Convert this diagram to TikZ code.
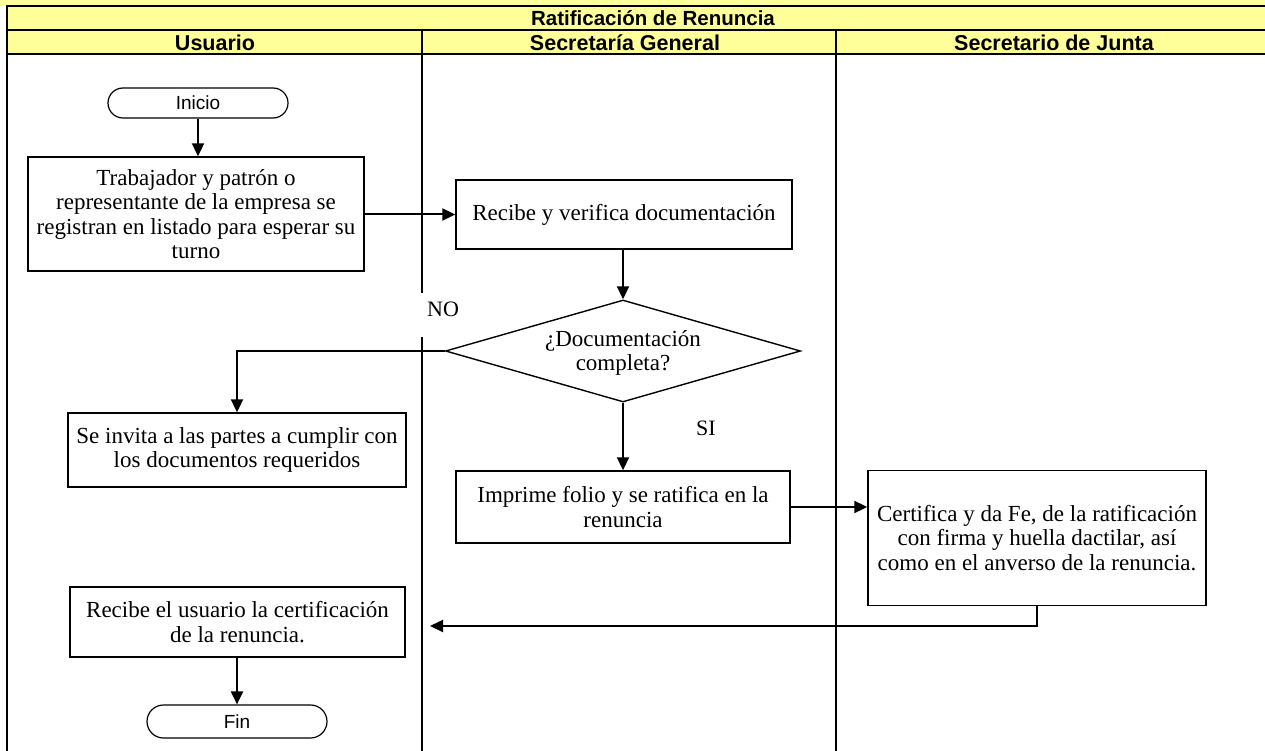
\documentclass[tikz,border=0pt]{standalone}
\usepackage{fontspec}
\setmainfont{Liberation Serif}
\newfontfamily\arialfont{Liberation Sans}
\usetikzlibrary{arrows.meta,shapes.geometric,shapes.misc}
\definecolor{hdryellow}{HTML}{FFFF99}
\tikzset{
  lane/.style={line width=2.4pt,black},
  hdr/.style={font=\arialfont\bfseries\fontsize{21.5}{23}\selectfont,inner sep=0pt,anchor=center},
  ttl/.style={font=\arialfont\bfseries\fontsize{20.5}{22}\selectfont,inner sep=0pt,anchor=center},
  procbox/.style={draw,line width=1.4pt,fill=white,align=center,font=\fontsize{23}{24.5}\selectfont,inner sep=0pt},
  term/.style={draw,line width=1.2pt,rounded rectangle,fill=white,font=\arialfont\fontsize{19}{21}\selectfont,inner sep=0pt},
  decision/.style={draw,line width=1.4pt,diamond,aspect=3.5,fill=white,inner sep=0pt},
  dtext/.style={align=center,font=\fontsize{23}{24.5}\selectfont,inner sep=0pt},
  flow/.style={line width=2pt,-{Triangle[length=13pt,width=12pt]}},
  lbl/.style={font=\fontsize{22}{24}\selectfont,inner sep=0pt}
}
\begin{document}
\begin{tikzpicture}[x=1pt,y=-1pt]
\useasboundingbox (0,0) rectangle (1265,751);
% top strip and header rows
\fill[hdryellow] (0,0) rectangle (1265,6);
\fill[hdryellow] (7,6) rectangle (1265,54);
\draw[lane] (7,6) -- (1265,6);
\draw[lane] (7,30) -- (1265,30);
\draw[lane] (7,54) -- (1265,54);
\draw[lane] (7,5) -- (7,751);
\draw[lane] (422,30) -- (422,293);
\draw[lane] (422,337) -- (422,751);
\draw[lane] (836,30) -- (836,751);
\node[ttl] (title) at (653,18.5) {Ratificación de Renuncia};
\node[hdr] (h1) at (215,42.5) {Usuario};
\node[hdr] (h2) at (625,42.5) {Secretaría General};
\node[hdr] (h3) at (1054,42.5) {Secretario de Junta};
% nodes
\node[term,minimum width=180pt,minimum height=30pt] (inicio) at (198,103) {Inicio};
\node[procbox,minimum width=336pt,minimum height=114pt] (b1) at (196,214) {Trabajador y patrón o\\representante de la empresa se\\registran en listado para esperar su\\turno};
\node[procbox,minimum width=336pt,minimum height=69pt] (b2) at (624,214.5) {Recibe y verifica documentación};
\node[decision,minimum width=355pt,minimum height=102pt] (d1) at (623,351) {};
\node[dtext] (d1t) at (623,353) {¿Documentación\\completa?};
\node[procbox,minimum width=338pt,minimum height=74pt] (b3) at (237,450) {Se invita a las partes a cumplir con\\los documentos requeridos};
\node[procbox,minimum width=334pt,minimum height=72pt] (b4) at (623,507) {Imprime folio y se ratifica en la\\renuncia};
\node[procbox,minimum width=338pt,minimum height=135pt] (b5) at (1037,538) {Certifica y da Fe, de la ratificación\\con firma y huella dactilar, así\\como en el anverso de la renuncia.};
\node[procbox,minimum width=335pt,minimum height=70pt] (b6) at (237.5,622) {Recibe el usuario la certificación\\de la renuncia.};
\node[term,minimum width=180pt,minimum height=33pt] (fin) at (237,721.5) {Fin};
\node[lbl] (no) at (443,309) {NO};
\node[lbl] (si) at (706,428) {SI};
% connectors
\coordinate (nocorner) at (237,351);
\coordinate (retcorner) at (1037,626);
\coordinate (retend) at (430,626);
\draw[flow] (inicio.south) -- (inicio.south |- b1.north);
\draw[flow] (b1.east |- b2.west) -- (b2.west);
\draw[flow] (b2.south -| d1.north) -- (d1.north);
\draw[flow] (d1.west) -- (nocorner) -- (nocorner |- b3.north);
\draw[flow] (d1.south) -- (d1.south |- b4.north);
\draw[flow] (b4.east) -- (b4.east -| b5.west);
\draw[flow] (b5.south) -- (retcorner) -- (retend);
\draw[flow] (b6.south -| fin.north) -- (fin.north);
\end{tikzpicture}
\end{document}
